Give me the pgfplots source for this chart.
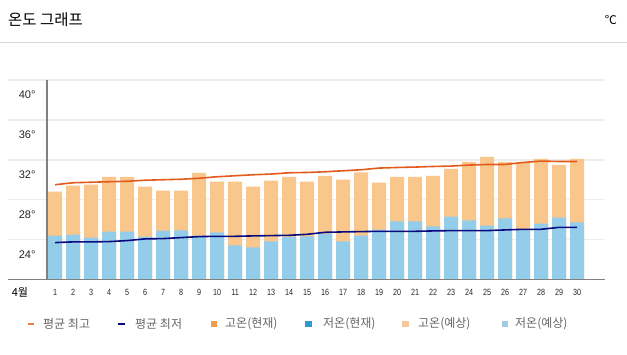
\documentclass[border=0pt]{standalone}
\usepackage{fontspec}
\setmainfont{Liberation Sans}
\newfontfamily\kr{Noto Sans CJK KR}
\newfontfamily\narrow[FakeStretch=0.8]{Liberation Sans}
\usepackage{pgfplots}
\pgfplotsset{compat=1.18}
\usepackage{pgfplotstable}

\definecolor{barorange}{HTML}{F9C68C}
\definecolor{barblue}{HTML}{94CDEA}
\definecolor{lineorange}{HTML}{E35B1C}
\definecolor{linenavy}{HTML}{0A0A80}
\definecolor{legorange}{HTML}{F29B4B}
\definecolor{legblue}{HTML}{2B9BD1}
\definecolor{leglorange}{HTML}{F8C89C}
\definecolor{leglblue}{HTML}{9CCBE3}
\definecolor{gridc}{HTML}{EEEEEE}
\definecolor{axisc}{HTML}{808080}
\definecolor{legtext}{HTML}{666666}

\pgfplotstableread{
day high low avgh avgl
1  28.8 24.4 29.5 23.7
2  29.4 24.5 29.7 23.77
3  29.5 24.2 29.75 23.77
4  30.3 24.8 29.8 23.8
5  30.3 24.8 29.85 23.9
6  29.3 24.3 29.95 24.07
7  28.9 24.9 30.0 24.1
8  28.9 24.93 30.05 24.2
9  30.7 24.4 30.15 24.3
10 29.8 24.73 30.3 24.33
11 29.8 23.43 30.4 24.33
12 29.3 23.23 30.5 24.37
13 29.9 23.83 30.57 24.4
14 30.3 24.27 30.7 24.43
15 29.8 24.33 30.73 24.53
16 30.4 24.6 30.8 24.73
17 30.0 23.83 30.9 24.77
18 30.73 24.4 31.0 24.8
19 29.7 25.0 31.17 24.83
20 30.3 25.83 31.23 24.83
21 30.3 25.83 31.27 24.83
22 30.4 25.33 31.33 24.87
23 31.1 26.3 31.37 24.9
24 31.8 25.93 31.47 24.9
25 32.3 25.4 31.53 24.9
26 31.8 26.13 31.53 24.97
27 31.7 25.05 31.73 25.03
28 32.1 25.6 31.87 25.03
29 31.5 26.2 31.83 25.23
30 32.1 25.73 31.83 25.23
}\data

\begin{document}
\begin{tikzpicture}[x=1pt,y=1pt]
\useasboundingbox (0,0) rectangle (627,355);
\fill[white] (0,0) rectangle (627,355);
% title
\node[anchor=west, inner sep=0pt] at (8,335) {\kr\fontsize{15.5}{15.5}\selectfont 온도 그래프};
\node[anchor=east, inner sep=0pt] at (617,335) {\kr\fontsize{12}{12}\selectfont ℃};
\draw[color=black!15, line width=1pt] (0,312) -- (627,312);

\begin{axis}[
  at={(47pt,75.5pt)}, anchor=south west,
  scale only axis, width=558pt, height=199.5pt,
  xmin=0.55, xmax=31.55, ymin=20, ymax=40,
  clip mode=individual,
  axis line style={draw=none},
  major tick length=0pt,
  /pgf/number format/assume math mode=true,
  xtick={1,...,30},
  ytick={24,28,32,36,40},
  yticklabels={24°,28°,32°,36°,40°},
  yticklabel style={anchor=east, xshift=-8pt, yshift=-15pt, font=\fontsize{11}{11}\selectfont, text=black!85},
  xticklabel style={anchor=north, yshift=-6pt, font=\narrow\fontsize{9}{9}\selectfont, text=black!85},
  ymajorgrids, grid style={color=gridc, line width=1.5pt},
]
\addplot[ybar, bar width=14pt, bar shift=0pt, fill=barorange, draw=none] table[x=day,y=high]{\data};
\addplot[ybar, bar width=14pt, bar shift=0pt, fill=barblue, draw=none] table[x=day,y=low]{\data};
\addplot[sharp plot, no marks, color=lineorange, line width=1.6pt] table[x=day,y=avgh]{\data};
\addplot[sharp plot, no marks, color=linenavy, line width=1.6pt] table[x=day,y=avgl]{\data};
\draw[color=gridc, line width=1.5pt] (axis cs:-1.6167,24) -- (axis cs:0.55,24);
\draw[color=gridc, line width=1.5pt] (axis cs:-1.6167,28) -- (axis cs:0.55,28);
\draw[color=gridc, line width=1.5pt] (axis cs:-1.6167,32) -- (axis cs:0.55,32);
\draw[color=gridc, line width=1.5pt] (axis cs:-1.6167,36) -- (axis cs:0.55,36);
\draw[color=gridc, line width=1.5pt] (axis cs:-1.6167,40) -- (axis cs:0.55,40);
\draw[color=axisc, line width=1.5pt] (axis cs:-1.6167,20) -- (axis cs:31.55,20);
\draw[color=axisc, line width=1.2pt] (axis cs:0.55,20) -- (axis cs:0.55,40);
\end{axis}

\node[anchor=center, inner sep=0pt] at (20,63) {\kr\fontsize{11}{11}\selectfont 4월};

% legend
\begin{scope}[every node/.style={anchor=west, inner sep=0pt, text=legtext, font=\kr\fontsize{12}{12}\selectfont}]
\draw[color=lineorange!80!white, line width=1.5pt] (28,31) -- (34,31);
\node at (43,31) {평균 최고};
\draw[color=linenavy, line width=1.5pt] (118,31) -- (125,31);
\node at (135,31) {평균 최저};
\fill[legorange] (211,28) rectangle (217,34);
\node at (225,31) {고온(현재)};
\fill[legblue] (305,28) rectangle (312,34);
\node at (323,31) {저온(현재)};
\fill[leglorange] (402,28) rectangle (409,34);
\node at (418,31) {고온(예상)};
\fill[leglblue] (502,28) rectangle (508,34);
\node at (515,31) {저온(예상)};
\end{scope}
\end{tikzpicture}
\end{document}
